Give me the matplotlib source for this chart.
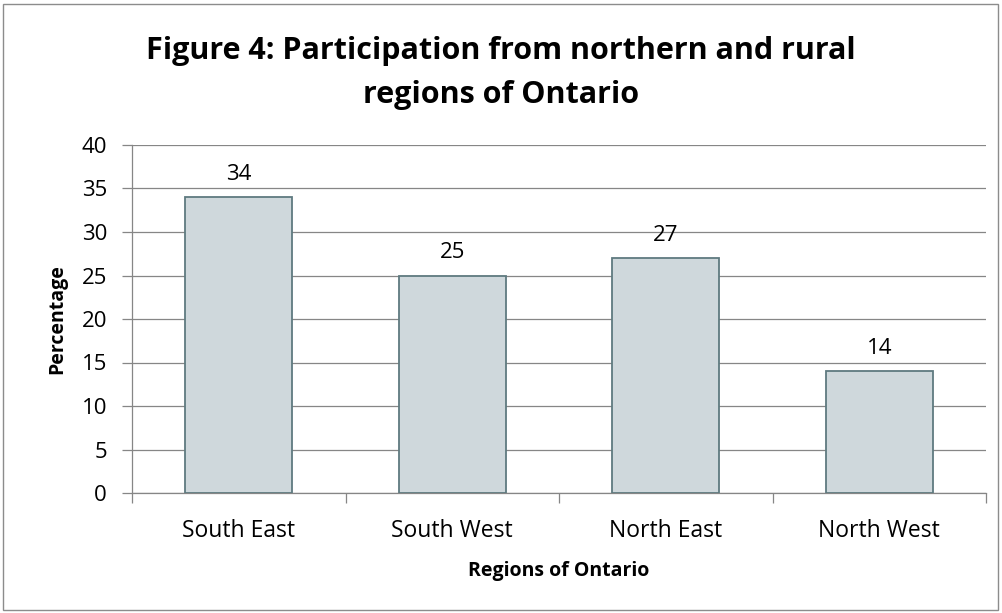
import matplotlib
matplotlib.use("Agg")
import matplotlib.pyplot as plt
from matplotlib.patches import Rectangle

categories = ["South East", "South West", "North East", "North West"]
values = [34, 25, 27, 14]
yticks = [0, 5, 10, 15, 20, 25, 30, 35, 40]

plt.rcParams['font.family'] = ['Open Sans', 'DejaVu Sans']

fig = plt.figure(figsize=(10.02, 6.13), dpi=100)
fig.patches.append(Rectangle((3/1002, 3/613), 995/1002, 606/613, transform=fig.transFigure,
                             fill=False, edgecolor='#8c8c8c', linewidth=1))
ax = fig.add_axes([132/1002, 1-493/613, (986-132)/1002, (493-145)/613])

x = range(len(categories))
bars = ax.bar(x, values, width=0.5, color='#cfd8dc', edgecolor='#5f7a80', linewidth=1.3, zorder=3)
for xi, v in zip(x, values):
    ax.text(xi, v + 1.4, str(v), ha='center', va='bottom', fontsize=16)

ax.set_xlim(-0.5, len(categories) - 0.5)
ax.set_ylim(0, 40)
ax.set_yticks(yticks)
ax.set_yticklabels([str(t) for t in yticks], fontsize=16)
ax.yaxis.grid(True, color='#868686', linewidth=0.9, zorder=0)
ax.set_xticks(list(x))
ax.set_xticklabels(categories, fontsize=16.5)
ax.tick_params(axis='x', length=0, pad=19)
ax.tick_params(axis='y', length=7, width=0.9, color='#868686', pad=11)
# category boundary ticks
ax.set_xticks([i - 0.5 for i in range(len(categories) + 1)], minor=True)
ax.tick_params(axis='x', which='minor', length=7, width=0.9, color='#868686', direction='out')

for s in ['top', 'right']:
    ax.spines[s].set_visible(False)
for s in ['left', 'bottom']:
    ax.spines[s].set_color('#868686')
    ax.spines[s].set_linewidth(0.9)

ax.set_ylabel("Percentage", fontsize=14, fontweight='bold', labelpad=10)
ax.set_xlabel("Regions of Ontario", fontsize=14, fontweight='bold', labelpad=13)

fig.text(0.5, 1 - 73/613, "Figure 4: Participation from northern and rural\nregions of Ontario",
         ha='center', va='center', fontsize=22, fontweight='bold', linespacing=1.65)

fig.savefig("out.png", dpi=100)
